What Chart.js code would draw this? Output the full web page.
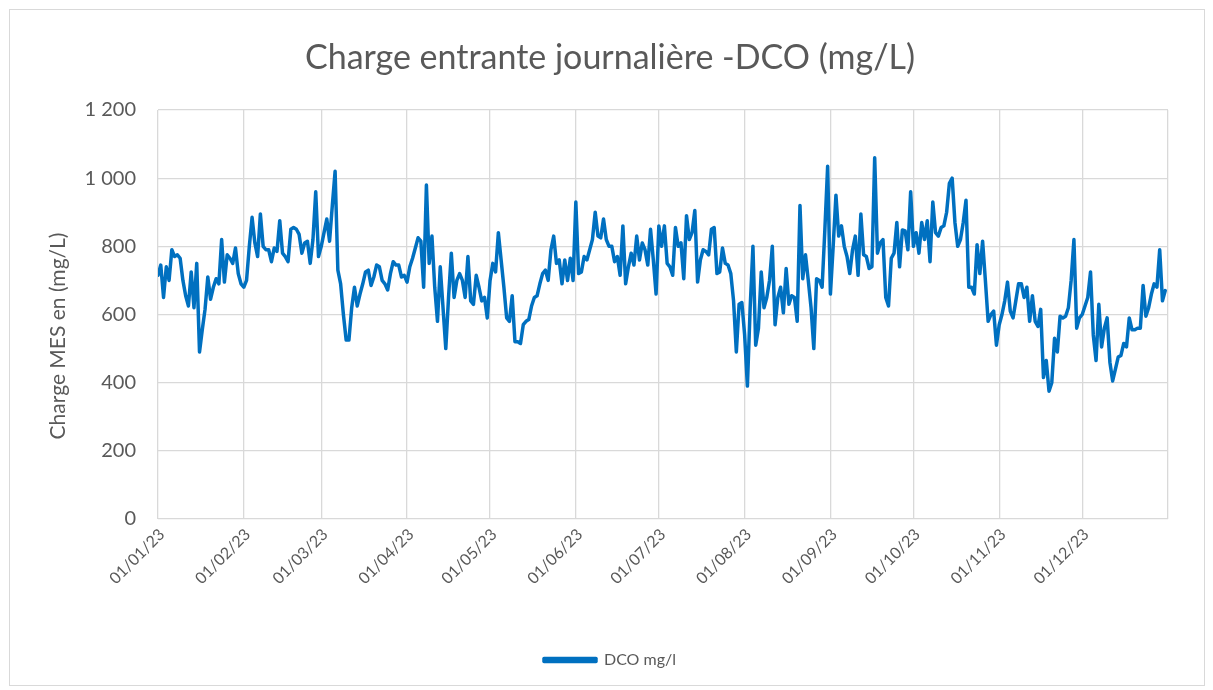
<!DOCTYPE html>
<html>
<head>
<meta charset="utf-8">
<script src="https://cdn.jsdelivr.net/npm/chart.js@4.4.1/dist/chart.umd.min.js"></script>
<style>
  html, body { margin: 0; padding: 0; background: #fff; }
  #wrap { position: relative; width: 1213px; height: 690px; }
  #frame { position: absolute; left: 9px; top: 9px; width: 1194px; height: 675px; border: 1px solid #d9d9d9; pointer-events: none; }
</style>
</head>
<body>
<div id="wrap">
  <canvas id="chart" width="1213" height="690"></canvas>
  <div id="frame"></div>
</div>
<script>
// Daily DCO values (mg/L), one array per month of 2023
const jan = [715, 745, 650, 740, 700, 790, 770, 775, 765, 700, 655, 625, 725, 620, 750, 490, 555, 615, 710, 645, 680, 705, 690, 820, 695, 775, 765, 750, 795, 720, 690];
const feb = [680, 700, 800, 885, 810, 770, 895, 800, 790, 790, 755, 795, 785, 875, 780, 770, 755, 850, 855, 850, 835, 780, 810, 815, 750, 820, 960, 770];
const mar = [800, 840, 880, 815, 920, 1020, 730, 690, 600, 525, 525, 620, 680, 625, 660, 690, 725, 730, 685, 710, 745, 740, 700, 690, 672, 720, 755, 745, 745, 710, 715];
const apr = [695, 740, 765, 795, 825, 815, 680, 980, 750, 830, 680, 580, 740, 620, 500, 650, 780, 650, 700, 720, 700, 650, 770, 640, 630, 715, 680, 640, 650, 590];
const may = [700, 750, 725, 840, 760, 680, 590, 580, 655, 520, 520, 515, 570, 580, 585, 625, 650, 655, 690, 720, 730, 700, 790, 830, 750, 760, 690, 760, 700, 765, 700];
const jun = [930, 720, 725, 770, 760, 790, 820, 900, 830, 825, 880, 820, 800, 800, 755, 770, 715, 860, 690, 740, 780, 745, 830, 760, 810, 790, 745, 850, 760, 660];
const jul = [860, 800, 860, 750, 740, 715, 855, 800, 810, 705, 890, 820, 840, 905, 695, 760, 790, 785, 775, 850, 855, 720, 725, 795, 750, 745, 720, 640, 490, 630, 635];
const aug = [540, 390, 620, 800, 510, 560, 725, 620, 650, 700, 800, 570, 650, 680, 605, 735, 630, 655, 650, 580, 920, 705, 775, 700, 620, 500, 705, 700, 680, 850, 1035];
const sep = [660, 800, 950, 830, 860, 800, 770, 720, 790, 830, 715, 895, 775, 770, 735, 740, 1060, 780, 810, 820, 650, 625, 765, 780, 870, 740, 848, 845, 790, 960];
const oct = [800, 840, 780, 870, 820, 875, 755, 930, 840, 830, 855, 860, 900, 985, 1000, 870, 800, 820, 870, 935, 680, 680, 660, 805, 720, 815, 700, 580, 600, 610, 510];
const nov = [570, 600, 640, 695, 610, 590, 640, 690, 690, 650, 680, 580, 655, 580, 565, 615, 415, 465, 375, 400, 530, 490, 595, 590, 595, 620, 700, 820, 560, 590];
const dec = [600, 625, 650, 725, 540, 465, 630, 505, 560, 590, 460, 405, 440, 475, 480, 515, 505, 590, 555, 555, 560, 560, 685, 595, 620, 660, 690, 680, 790, 640, 670];

// Tick labels (first day of each month) and their day index in the year
const monthLabels = ["01/01/23", "01/02/23", "01/03/23", "01/04/23", "01/05/23", "01/06/23", "01/07/23", "01/08/23", "01/09/23", "01/10/23", "01/11/23", "01/12/23", ""];
const monthStarts = [0, 31, 59, 90, 120, 151, 181, 212, 243, 273, 304, 334, 365];
const yTicks = [0, 200, 400, 600, 800, 1000, 1200];

const daily = [].concat(jan, feb, mar, apr, may, jun, jul, aug, sep, oct, nov, dec);
const points = daily.map((v, i) => ({ x: i, y: v }));

const grey = "#595959";
const gridColor = "#d9d9d9";
const fontFamily = "Lato, 'Open Sans', sans-serif";

new Chart(document.getElementById("chart"), {
  type: "line",
  data: {
    datasets: [{
      label: "DCO mg/l",
      data: points,
      borderColor: "#0070C0",
      backgroundColor: "#0070C0",
      borderWidth: 3.5,
      pointRadius: 0,
      tension: 0,
      borderJoinStyle: "round",
      borderCapStyle: "round"
    }]
  },
  options: {
    responsive: false,
    animation: false,
    layout: { padding: { left: 52, right: 45, top: 0, bottom: 12 } },
    plugins: {
      title: {
        display: true,
        text: "Charge entrante journalière -DCO (mg/L)",
        color: grey,
        font: { family: fontFamily, size: 34, weight: "normal" },
        padding: { top: 37.6, bottom: 31.6 }
      },
      legend: {
        position: "bottom",
        labels: {
          color: grey,
          font: { family: fontFamily, size: 16 },
          boxWidth: 52,
          boxHeight: 3,
          padding: 10
        }
      },
      tooltip: { enabled: false }
    },
    scales: {
      x: {
        type: "linear",
        min: 0,
        max: 365,
        afterBuildTicks: (scale) => {
          scale.ticks = monthStarts.map((v) => ({ value: v }));
        },
        afterFit: (scale) => { scale.height = 123; },
        ticks: {
          autoSkip: false,
          maxRotation: 45,
          minRotation: 45,
          color: grey,
          font: { family: fontFamily, size: 16 },
          padding: 6,
          labelOffset: 4,
          callback: (value) => monthLabels[monthStarts.indexOf(value)]
        },
        grid: { color: gridColor, lineWidth: 1.3, drawTicks: false },
        border: { display: false }
      },
      y: {
        min: 0,
        max: 1200,
        afterBuildTicks: (scale) => {
          scale.ticks = yTicks.map((v) => ({ value: v }));
        },
        afterFit: (scale) => { scale.width = 106; },
        ticks: {
          color: grey,
          font: { family: fontFamily, size: 20 },
          padding: 22,
          callback: (value) => value >= 1000 ? Math.floor(value / 1000) + " " + String(value % 1000).padStart(3, "0") : String(value)
        },
        grid: { color: gridColor, lineWidth: 1.3, drawTicks: false },
        border: { display: false },
        title: {
          display: true,
          // trailing spaces push the text down a little, as in the original
          text: "Charge MES en (mg/L)\u00a0\u00a0\u00a0\u00a0\u00a0\u00a0\u00a0\u00a0",
          color: grey,
          font: { family: fontFamily, size: 21 },
          padding: { top: -6.6, bottom: 0 }
        }
      }
    }
  }
});
</script>
</body>
</html>
